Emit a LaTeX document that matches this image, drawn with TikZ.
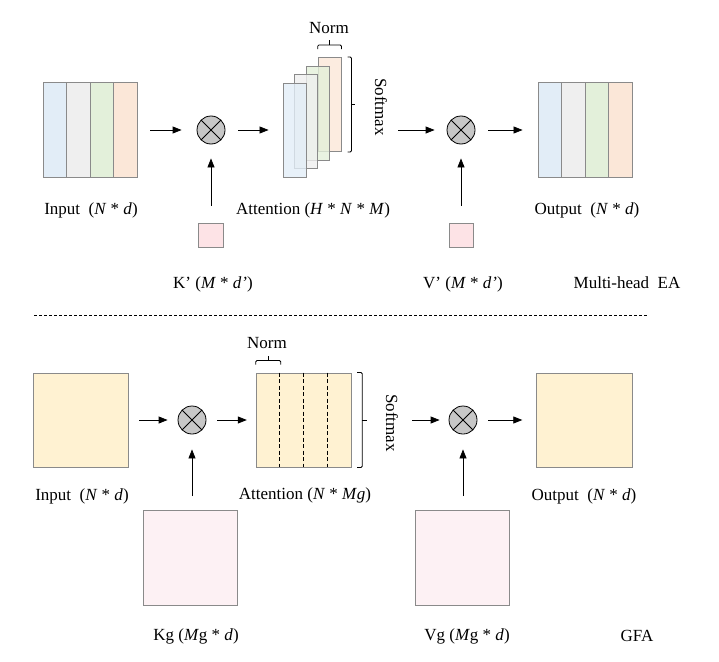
\documentclass[tikz,border=0pt]{standalone}
\usepackage{fontspec}
\setmainfont{Liberation Serif}
\usetikzlibrary{arrows.meta}

\definecolor{cblue}{HTML}{E2EDF7}
\definecolor{cgray}{HTML}{EFEFEF}
\definecolor{cgreen}{HTML}{E3F0DA}
\definecolor{cpeach}{HTML}{FBE7D8}
\definecolor{cpink}{HTML}{FDE3E6}
\definecolor{cyellow}{HTML}{FFF2D2}
\definecolor{clight}{HTML}{FDF1F4}
\definecolor{cedge}{HTML}{8A8A8A}

\tikzset{
	col/.style={draw=cedge, line width=0.9pt, minimum width=23.5pt, minimum height=95pt, inner sep=0pt},
	sq/.style={draw=cedge, line width=0.9pt, inner sep=0pt},
	mulop/.style={circle, draw, fill=black!22, line width=0.8pt, minimum size=28pt, inner sep=0pt,
		path picture={\draw[line width=0.8pt] (path picture bounding box.north west) -- (path picture bounding box.south east)
			(path picture bounding box.north east) -- (path picture bounding box.south west);}},
	arr/.style={-{Triangle[length=9pt,width=7pt]}, line width=0.8pt},
	lbl/.style={font=\fontsize{17}{20}\selectfont, inner sep=0pt},
	brk/.style={line width=0.8pt, rounded corners=1.2pt},
}

\begin{document}
\begin{tikzpicture}[x=1pt, y=-1pt]
	\useasboundingbox (0,0) rectangle (719,661);
	%\draw[help lines] (0,0) grid[step=50] (719,661);

	% Multi-head EA
	\node[col, fill=cblue] (in1) at (54.75,130) {};
	\node[col, fill=cgray] (in2) at (78.25,130) {};
	\node[col, fill=cgreen] (in3) at (101.75,130) {};
	\node[col, fill=cpeach] (in4) at (125.25,130) {};
	\node[lbl] (inA) at (91,210) {Input\ \ (\textit{N} * \textit{d})};

	\node[mulop] (mulA) at (211,130) {};
	\node[sq, fill=cpink, minimum width=25pt, minimum height=24pt] (kA) at (211,235) {};
	\node[lbl] (kAl) at (213,284) {K’ (\textit{M} * \textit{d’})};

	\node[col, minimum width=23pt, minimum height=94pt, fill=cpeach, fill opacity=0.8, text opacity=1] (att4) at (329.6,104.5) {};
	\node[col, minimum width=23pt, minimum height=94pt, fill=cgreen, fill opacity=0.8, text opacity=1] (att3) at (317.9,113) {};
	\node[col, minimum width=23pt, minimum height=94pt, fill=cgray, fill opacity=0.8, text opacity=1] (att2) at (306.2,121.5) {};
	\node[col, minimum width=23pt, minimum height=94pt, fill=cblue, fill opacity=0.8, text opacity=1] (att1) at (294.5,130) {};
	\node[lbl] (attA) at (313,210) {Attention (\textit{H} * \textit{N} * \textit{M})};
	% brackets
	\draw[brk] ([yshift=8pt]att4.north west) -- ++(0,-4) -| ([yshift=8pt]att4.north east);
	\draw[line width=0.8pt] ([yshift=12pt]att4.north) -- ++(0,-5);
	\node[lbl] (normA) at (329,28) {Norm};
	\draw[brk] ([xshift=6pt]att4.north east) -- ++(4,0) |- ([xshift=6pt]att4.south east);
	\draw[line width=0.8pt] ([xshift=10pt]att4.east) -- ++(3.5,0);
	\node[lbl, rotate=-90] (smA) at (381,107) {Softmax};
	\coordinate (smAout) at (398,130);

	\node[mulop] (mulB) at (461,130) {};
	\node[sq, fill=cpink, minimum width=24pt, minimum height=24pt] (vA) at (461,235) {};
	\node[lbl] (vAl) at (463,284) {V’ (\textit{M} * \textit{d’})};

	\node[col, fill=cblue] (out1) at (549.75,130) {};
	\node[col, fill=cgray] (out2) at (573.25,130) {};
	\node[col, fill=cgreen] (out3) at (596.75,130) {};
	\node[col, fill=cpeach] (out4) at (620.25,130) {};
	\node[lbl] (outA) at (587,210) {Output\ \ (\textit{N} * \textit{d})};
	\node[lbl] (nameA) at (627,283) {Multi-head\ \ EA};

	\draw[arr, shorten <=13pt, shorten >=15pt] (in4.east) -- (mulA.west);
	\draw[arr, shorten <=13pt, shorten >=14pt] (mulA.east) -- (att1.west);
	\draw[arr, shorten <=17pt, shorten >=14pt] (kA.north) -- (mulA.south);
	\draw[arr, shorten >=12pt] (smAout) -- (mulB.west);
	\draw[arr, shorten <=13pt, shorten >=15pt] (mulB.east) -- (out1.west);
	\draw[arr, shorten <=17pt, shorten >=14pt] (vA.north) -- (mulB.south);

	\coordinate (sepL) at (34,315);
	\coordinate (sepR) at (648,315);
	\draw[line width=0.8pt, dash pattern=on 3pt off 2pt] (sepL) -- (sepR);

	% GFA
	\node[sq, fill=cyellow, minimum width=95pt, minimum height=94pt] (inB) at (80.5,420) {};
	\node[lbl] (inBl) at (82,496) {Input\ \ (\textit{N} * \textit{d})};

	\node[mulop] (mulC) at (192,420) {};
	\node[sq, fill=clight, minimum width=94pt, minimum height=95pt] (kB) at (190,558) {};
	\node[lbl] (kBl) at (196,636) {Kg (\textit{M}g * \textit{d})};

	\node[sq, fill=cyellow, minimum width=95.5pt, minimum height=94pt] (attB) at (304,420) {};
	\foreach \i in {1,2,3}
		\draw[line width=0.8pt, dash pattern=on 4pt off 2.5pt] ([xshift=\i*23.9pt]attB.north west) -- ([xshift=\i*23.9pt]attB.south west);
	\node[lbl] (attBl) at (305,495) {Attention (\textit{N} * \textit{M\kern0.5pt g})};
	% brackets
	\draw[brk] ([yshift=8pt]attB.north west) -- ++(0,-4) -| ([xshift=25pt,yshift=8pt]attB.north west);
	\draw[line width=0.8pt] ([xshift=12.5pt,yshift=12pt]attB.north west) -- ++(0,-4.5);
	\node[lbl] (normB) at (267,343) {Norm};
	\draw[brk] ([xshift=5pt]attB.north east) -- ++(5,0) |- ([xshift=5pt]attB.south east);
	\draw[line width=0.8pt] ([xshift=10pt]attB.east) -- ++(4.5,0);
	\node[lbl, rotate=-90] (smB) at (392,423) {Softmax};
	\coordinate (smBout) at (412,420);

	\node[mulop] (mulD) at (463,420) {};
	\node[sq, fill=clight, minimum width=94pt, minimum height=95pt] (vB) at (462,558) {};
	\node[lbl] (vBl) at (467,636) {Vg (\textit{M}g * \textit{d})};

	\node[sq, fill=cyellow, minimum width=95.5pt, minimum height=94pt] (outB) at (584.5,420) {};
	\node[lbl] (outBl) at (584,496) {Output\ \ (\textit{N} * \textit{d})};
	\node[lbl] (nameB) at (637,636) {GFA};

	\draw[arr, shorten <=11pt, shorten >=10pt] (inB.east) -- (mulC.west);
	\draw[arr, shorten <=11pt, shorten >=9pt] (mulC.east) -- (attB.west);
	\draw[arr, shorten <=14pt, shorten >=15pt] (mulC |- kB.north) -- (mulC.south);
	\draw[arr, shorten >=9pt] (smBout) -- (mulD.west);
	\draw[arr, shorten <=11pt, shorten >=14pt] (mulD.east) -- (outB.west);
	\draw[arr, shorten <=14pt, shorten >=15pt] (mulD |- vB.north) -- (mulD.south);
\end{tikzpicture}
\end{document}
